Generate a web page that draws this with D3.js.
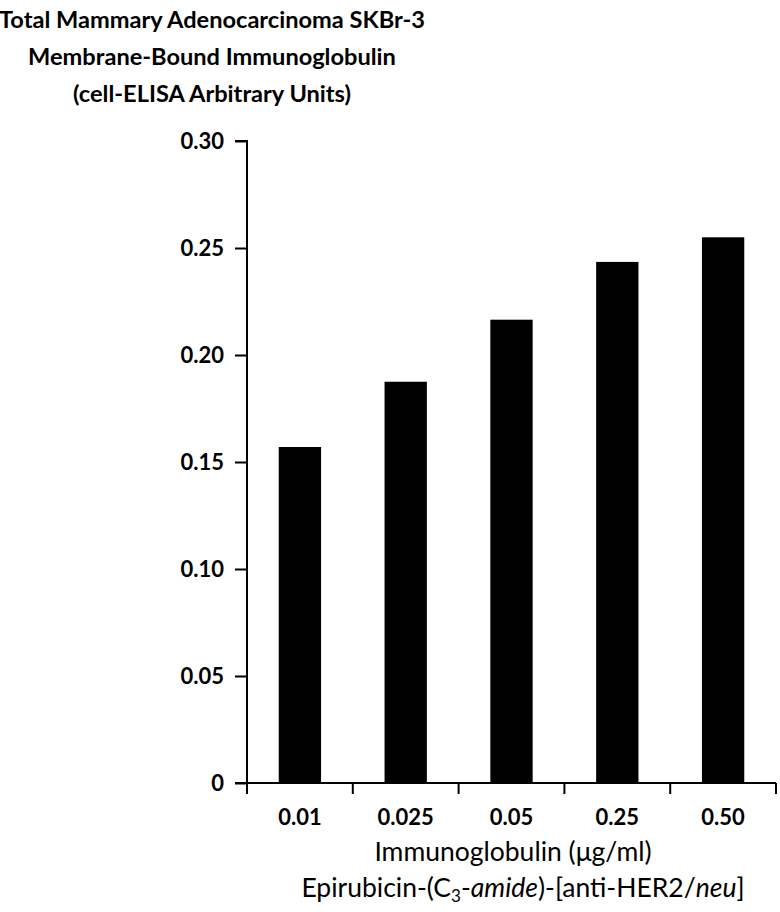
<!DOCTYPE html>
<html>
<head>
<meta charset="utf-8">
<script src="https://cdn.jsdelivr.net/npm/d3@7"></script>
<style>
  body { margin: 0; background: #fff; }
  svg text { font-family: "Lato", "Open Sans", sans-serif; fill: #000; }
</style>
</head>
<body>
<div id="chart"></div>
<script>
const concentrations = ["0.01", "0.025", "0.05", "0.25", "0.50"];
const elisaValues = [0.157, 0.1875, 0.2165, 0.2435, 0.255];
const yTicks = [0, 0.05, 0.10, 0.15, 0.20, 0.25, 0.30];
const titleLines = [
    "Total Mammary Adenocarcinoma SKBr-3",
    "Membrane-Bound Immunoglobulin",
    "(cell-ELISA Arbitrary Units)"
];

const width = 780, height = 912;
const svg = d3.select("#chart").append("svg")
    .attr("width", width)
    .attr("height", height);

const x = d3.scaleBand()
    .domain(concentrations)
    .range([247, 776])
    .paddingInner(0.6)
    .paddingOuter(0.3);

const y = d3.scaleLinear()
    .domain([0, 0.30])
    .range([783, 141]);

// title
svg.append("g").selectAll("text")
    .data(titleLines)
    .enter()
    .append("text")
    .attr("x", 212)
    .attr("y", (d, i) => 28 + i * 37)
    .attr("text-anchor", "middle")
    .attr("font-weight", "bold")
    .attr("font-size", 23.6)
    .text(d => d);

// bars
svg.append("g").selectAll("rect")
    .data(elisaValues)
    .enter()
    .append("rect")
    .attr("x", (d, i) => x(concentrations[i]))
    .attr("width", x.bandwidth())
    .attr("y", d => y(d))
    .attr("height", d => y(0) - y(d))
    .attr("fill", "#000");

// y axis
const yAxis = svg.append("g")
    .attr("transform", "translate(247,0)")
    .call(d3.axisLeft(y)
        .tickValues(yTicks)
        .tickSize(12)
        .tickPadding(11)
        .tickFormat(d => d === 0 ? "0" : d3.format(".2f")(d)));
yAxis.select(".domain").attr("stroke-width", 2).attr("d", "M-12,141H0V783");
yAxis.selectAll(".tick line").attr("stroke-width", 2);
yAxis.selectAll(".tick text")
    .attr("font-size", 22)
    .attr("font-weight", "bold")
    .attr("font-family", "Lato, 'Open Sans', sans-serif");

// x axis: ticks at category boundaries
const step = (776 - 247) / concentrations.length;
const xAxis = svg.append("g");
xAxis.append("line")
    .attr("x1", 235).attr("x2", 776)
    .attr("y1", 783).attr("y2", 783)
    .attr("stroke", "#000").attr("stroke-width", 2);
xAxis.selectAll("line.tk")
    .data(d3.range(concentrations.length + 1))
    .enter()
    .append("line")
    .attr("class", "tk")
    .attr("x1", i => 247 + i * step)
    .attr("x2", i => 247 + i * step)
    .attr("y1", 783).attr("y2", 794)
    .attr("stroke", "#000").attr("stroke-width", 2);
xAxis.selectAll("text")
    .data(concentrations)
    .enter()
    .append("text")
    .attr("x", d => x(d) + x.bandwidth() / 2)
    .attr("y", 825)
    .attr("text-anchor", "middle")
    .attr("font-weight", "bold")
    .attr("font-size", 22)
    .text(d => d);

// x axis titles
svg.append("text")
    .attr("x", 513)
    .attr("y", 861)
    .attr("text-anchor", "middle")
    .attr("font-size", 26.5)
    .text("Immunoglobulin (\u03BCg/ml)");

const sub = svg.append("text")
    .attr("x", 523)
    .attr("y", 897)
    .attr("text-anchor", "middle")
    .attr("font-size", 26.5);
sub.append("tspan").text("Epirubicin-(C");
sub.append("tspan").attr("font-size", 17).attr("dy", 5).text("3");
sub.append("tspan").attr("dy", -5).text("-");
sub.append("tspan").attr("font-style", "italic").text("amide");
sub.append("tspan").text(")-[anti-HER2/");
sub.append("tspan").attr("font-style", "italic").text("neu");
sub.append("tspan").text("]");
</script>
</body>
</html>
